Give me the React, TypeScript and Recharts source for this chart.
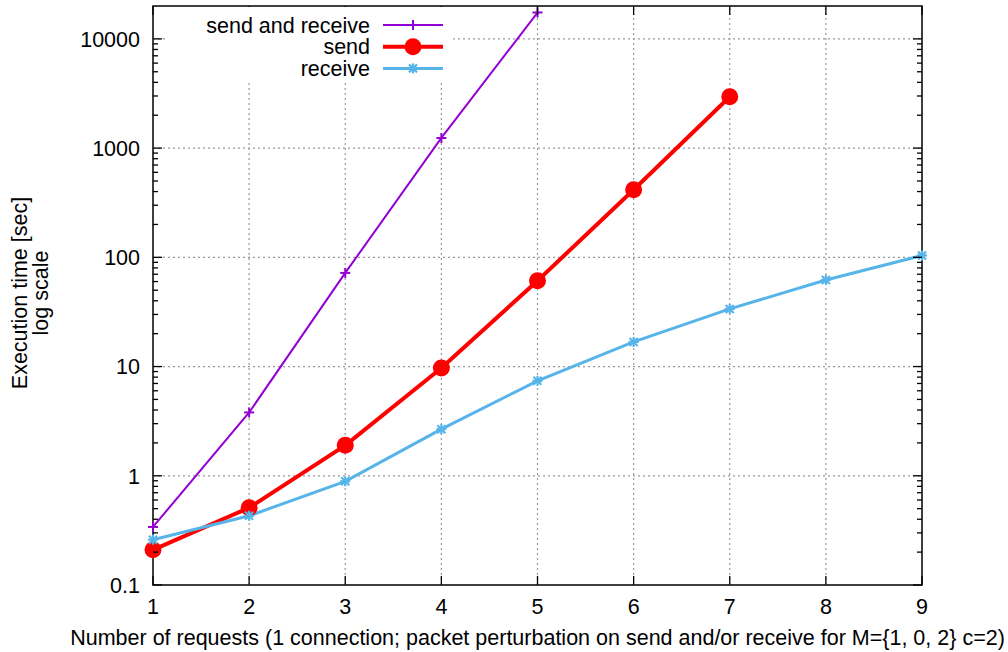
import React from 'react';
import { LineChart, Line, XAxis, YAxis, ReferenceLine, ReferenceArea, Legend, Label } from 'recharts';

const requests = [1, 2, 3, 4, 5, 6, 7, 8, 9];
const sendAndReceive = [0.34, 3.8, 72, 1240, 17400];
const send = [0.21, 0.51, 1.9, 9.7, 61, 415, 2950];
const receive = [0.26, 0.43, 0.89, 2.67, 7.4, 16.8, 33.7, 62, 104];

const yDecades = [0.1, 1, 10, 100, 1000, 10000];
const yGrid = [1, 10, 100, 1000, 10000];
const xGrid = [2, 3, 4, 5, 6, 7, 8];

const data = requests.map((n, i) => ({ n, sr: sendAndReceive[i], s: send[i], r: receive[i] }));

// log ticks incl. minor ones (2..9 per decade)
const yTicks = yDecades
  .flatMap((d) => [1, 2, 3, 4, 5, 6, 7, 8, 9].map((k) => +(d * k).toPrecision(3)))
  .filter((v) => v < 20000);

const W = 1008;
const H = 652;
const L = 153;
const R = 922;
const T = 6;
const B = 585;
const FONT = '"Liberation Sans", Arial, Helvetica, sans-serif';
const FS = 21.5;

const SERIES = {
  sr: { name: 'send and receive', color: '#9400d3', width: 2 },
  s: { name: 'send', color: '#ff0000', width: 4 },
  r: { name: 'receive', color: '#56b4e9', width: 3 },
};
const ORDER = ['sr', 's', 'r'];

const Marker = ({ kind, cx, cy, color }: any) => {
  if (cx == null || cy == null || isNaN(cx) || isNaN(cy)) return null;
  if (kind === 'sr') {
    return (
      <g stroke={color} strokeWidth={2}>
        <line x1={cx - 5} x2={cx + 5} y1={cy} y2={cy} />
        <line x1={cx} x2={cx} y1={cy - 5} y2={cy + 5} />
      </g>
    );
  }
  if (kind === 's') return <circle cx={cx} cy={cy} r={8.5} fill={color} stroke="none" />;
  return (
    <g stroke={color} strokeWidth={2.2}>
      <line x1={cx - 5} x2={cx + 5} y1={cy} y2={cy} />
      <line x1={cx} x2={cx} y1={cy - 5} y2={cy + 5} />
      <line x1={cx - 4} x2={cx + 4} y1={cy - 4} y2={cy + 4} />
      <line x1={cx - 4} x2={cx + 4} y1={cy + 4} y2={cy - 4} />
    </g>
  );
};

const YTick = (props: any) => {
  const { y, payload } = props;
  const v = payload.value;
  const major = yDecades.includes(v);
  const len = major ? 9 : 5;
  return (
    <g>
      <line x1={L} x2={L + len} y1={y} y2={y} stroke="#000" strokeWidth={1.3} />
      <line x1={R} x2={R - len} y1={y} y2={y} stroke="#000" strokeWidth={1.3} />
      {major && (
        <text x={140} y={y} dy="0.36em" textAnchor="end" fontFamily={FONT} fontSize={FS} fill="#000">
          {v}
        </text>
      )}
    </g>
  );
};

const XTick = (props: any) => {
  const { x, payload } = props;
  return (
    <g>
      <line x1={x} x2={x} y1={B} y2={B - 9} stroke="#000" strokeWidth={1.3} />
      <line x1={x} x2={x} y1={T} y2={T + 9} stroke="#000" strokeWidth={1.3} />
      <text x={x} y={614} textAnchor="middle" fontFamily={FONT} fontSize={FS} fill="#000">
        {payload.value}
      </text>
    </g>
  );
};

const LegendBox = (props: any) => {
  const payload = [...(props.payload || [])].sort(
    (a: any, b: any) => ORDER.indexOf(a.dataKey) - ORDER.indexOf(b.dataKey),
  );
  return (
    <svg width={282} height={73} style={{ display: 'block' }}>
      {payload.map((p: any, i: number) => {
        const key = p.dataKey as keyof typeof SERIES;
        const s = SERIES[key];
        const y = 18 + i * 21.7;
        return (
          <g key={key}>
            <text x={202} y={y} dy="0.36em" textAnchor="end" fontFamily={FONT} fontSize={FS} fill="#000">
              {s.name}
            </text>
            <line x1={215} x2={275} y1={y} y2={y} stroke={s.color} strokeWidth={s.width} />
            <Marker kind={key} cx={245} cy={y} color={s.color} />
          </g>
        );
      })}
    </svg>
  );
};

export default function App() {
  return (
    <div style={{ position: 'absolute', left: 0, top: 0, width: W, height: H, background: '#fff' }}>
      <LineChart width={W} height={H} data={data} margin={{ top: T, right: W - R, bottom: 0, left: 0 }}>
        {yGrid.map((v) => (
          <ReferenceLine key={'y' + v} y={v} stroke="#999" strokeWidth={1.2} strokeDasharray="2 3" />
        ))}
        {xGrid.map((v) => (
          <ReferenceLine key={'x' + v} x={v} stroke="#999" strokeWidth={1.2} strokeDasharray="2 3" />
        ))}
        <XAxis
          dataKey="n"
          type="number"
          domain={[1, 9]}
          ticks={requests}
          interval={0}
          height={H - B}
          tickLine={false}
          axisLine={false}
          tick={<XTick />}
        >
          <Label
            content={() => (
              <text x={(L + R) / 2} y={645} textAnchor="middle" fontFamily={FONT} fontSize={FS} fill="#000">
                Number of requests (1 connection; packet perturbation on send and/or receive for M={'{'}1, 0, 2{'}'} c=2)
              </text>
            )}
          />
        </XAxis>
        <YAxis
          type="number"
          scale="log"
          domain={[0.1, 20000]}
          allowDataOverflow
          ticks={yTicks}
          interval={0}
          width={L}
          tickLine={false}
          axisLine={false}
          tick={<YTick />}
        >
          <Label
            content={() => (
              <g fontFamily={FONT} fontSize={FS} fill="#000">
                <text transform="translate(20,293) rotate(-90)" textAnchor="middle" dominantBaseline="central">
                  Execution time [sec]
                </text>
                <text transform="translate(41,293) rotate(-90)" textAnchor="middle" dominantBaseline="central">
                  log scale
                </text>
              </g>
            )}
          />
        </YAxis>
        <ReferenceArea x1={1} x2={9} y1={0.1} y2={20000} fill="none" stroke="#000" strokeWidth={1.5} />
        <Line
          dataKey="sr"
          name={SERIES.sr.name}
          stroke={SERIES.sr.color}
          strokeWidth={SERIES.sr.width}
          isAnimationActive={false}
          dot={(p: any) => <Marker key={'sr' + p.index} kind="sr" cx={p.cx} cy={p.cy} color={SERIES.sr.color} />}
          activeDot={false}
        />
        <Line
          dataKey="s"
          name={SERIES.s.name}
          stroke={SERIES.s.color}
          strokeWidth={SERIES.s.width}
          isAnimationActive={false}
          dot={(p: any) => <Marker key={'s' + p.index} kind="s" cx={p.cx} cy={p.cy} color={SERIES.s.color} />}
          activeDot={false}
        />
        <Line
          dataKey="r"
          name={SERIES.r.name}
          stroke={SERIES.r.color}
          strokeWidth={SERIES.r.width}
          isAnimationActive={false}
          dot={(p: any) => <Marker key={'r' + p.index} kind="r" cx={p.cx} cy={p.cy} color={SERIES.r.color} />}
          activeDot={false}
        />
        <Legend
          layout="horizontal"
          verticalAlign="middle"
          align="center"
          content={<LegendBox />}
          wrapperStyle={{ left: 168, top: 7, width: 282, height: 73, backgroundColor: '#fff' }}
        />
      </LineChart>
    </div>
  );
}
